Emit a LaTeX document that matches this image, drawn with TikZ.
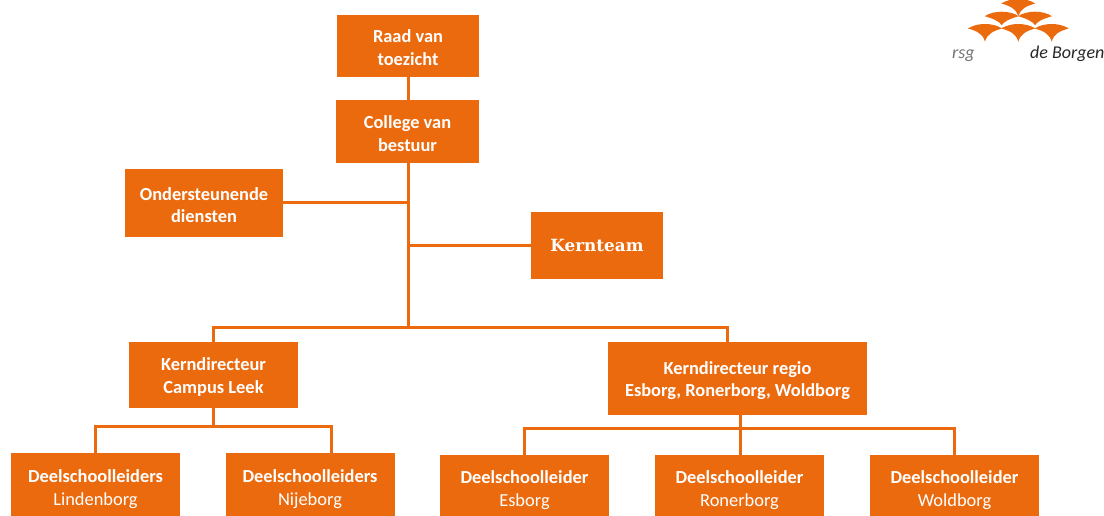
\documentclass[tikz,border=0pt]{standalone}
\usepackage{fontspec}
\setmainfont{Carlito}
\newfontfamily\slabfont{DejaVu Serif}
\definecolor{borgen}{HTML}{EB6A0E}
\newcommand{\topstrut}[1]{\rule{0pt}{#1}}
\tikzset{
  orgbox/.style={fill=borgen, text=white, align=center, font=\fontsize{18.4}{22.5}\selectfont\bfseries, inner sep=0pt},
  orgline/.style={draw=borgen, line width=3pt},
  deelbox/.style={orgbox, minimum width=169pt, minimum height=72pt},
  logotext/.style={font=\fontsize{18}{20}\selectfont\itshape, inner sep=0pt, anchor=base west}
}
\newcommand{\naam}[1]{{\mdseries #1}}
\begin{document}
\begin{tikzpicture}[x=1pt,y=1pt]
  \useasboundingbox (0,0) rectangle (1104,-516);

  % top of the tree
  \node (raad) [orgbox, minimum width=142pt, minimum height=62pt] at (408,-46) {\topstrut{16pt}Raad van\\toezicht};
  \node (college) [orgbox, minimum width=143pt, minimum height=63pt] at (407.5,-131.5) {\topstrut{17pt}College van\\bestuur};
  \node (diensten) [orgbox, minimum width=158pt, minimum height=68pt] at (204,-203) {\topstrut{17pt}Ondersteunende\\diensten};
  \node (kernteam) [orgbox, minimum width=132pt, minimum height=67pt, font=\fontsize{16.8}{18}\selectfont\slabfont\bfseries] at (597,-245.5) {Kernteam};

  % kerndirecteuren
  \node (campus) [orgbox, minimum width=169pt, minimum height=66pt] at (213.5,-375) {\topstrut{17pt}Kerndirecteur\\Campus Leek};
  \node (regio) [orgbox, minimum width=259pt, minimum height=73pt] at (737.5,-378.5) {\topstrut{17pt}Kerndirecteur regio\\Esborg, Ronerborg, Woldborg};

  % deelschoolleiders
  \node (lindenborg) [deelbox] at (95.5,-489) {Deelschoolleiders\\\naam{Lindenborg}};
  \node (nijeborg) [deelbox] at (310,-489) {Deelschoolleiders\\\naam{Nijeborg}};
  \node (esborg) [deelbox, minimum height=70pt] at (524.5,-490) {Deelschoolleider\\\naam{Esborg}};
  \node (ronerborg) [deelbox, minimum height=70pt] at (739.5,-490) {Deelschoolleider\\\naam{Ronerborg}};
  \node (woldborg) [deelbox, minimum height=70pt] at (954.5,-490) {Deelschoolleider\\\naam{Woldborg}};

  \coordinate (trunk) at (408,-327);
  \coordinate (campusbus) at (213,-327);
  \coordinate (regiobus) at (727,-327);
  \coordinate (regiotop) at (727,-342);
  \coordinate (campusdown) at (213,-426);
  \coordinate (lindenbus) at (95,-426);
  \coordinate (lindentop) at (95,-453);
  \coordinate (nijebus) at (331,-426);
  \coordinate (nijetop) at (331,-453);
  \coordinate (regiodown) at (740,-428);

  \draw[orgline] (raad) -- (raad |- college.north);
  \draw[orgline] (college.south -| trunk) -- (trunk);
  \draw[orgline] (diensten) -- (diensten -| trunk);
  \draw[orgline] (kernteam) -- (kernteam -| trunk);
  \draw[orgline] (campus.north -| campusbus) |- (regiobus) -- (regiotop);

  \draw[orgline] (campus.south -| campusdown) -- (campusdown);
  \draw[orgline] (lindentop) |- (nijebus) -- (nijetop);

  \draw[orgline] (regio.south -| regiodown) -- (regiodown);
  \draw[orgline] (esborg.north) |- (regiodown) -| (woldborg.north);
  \draw[orgline] (regiodown) -- (ronerborg.north -| regiodown);

  % logo
  \foreach \cx/\ct/\ch in {985/24/17.7, 1018.3/24/17.7, 1051.7/24/17.7, 1001.7/11.7/13.5, 1035/11.7/13.5, 1018.3/-1/17}
    \fill[borgen] (\cx-17,-\ct-4.5) .. controls (\cx-8,-\ct+1.5) and (\cx+8,-\ct+1.5) .. (\cx+17,-\ct-4.5)
      .. controls (\cx+8,-\ct-7) and (\cx+2,-\ct-10) .. (\cx,-\ct-\ch)
      .. controls (\cx-2,-\ct-10) and (\cx-8,-\ct-7) .. cycle;
  \node (rsg) [logotext, text=black!55] at (952,-59) {rsg};
  \node (borgen) [logotext, text=black!85] at (1030,-59) {de Borgen};
\end{tikzpicture}
\end{document}
